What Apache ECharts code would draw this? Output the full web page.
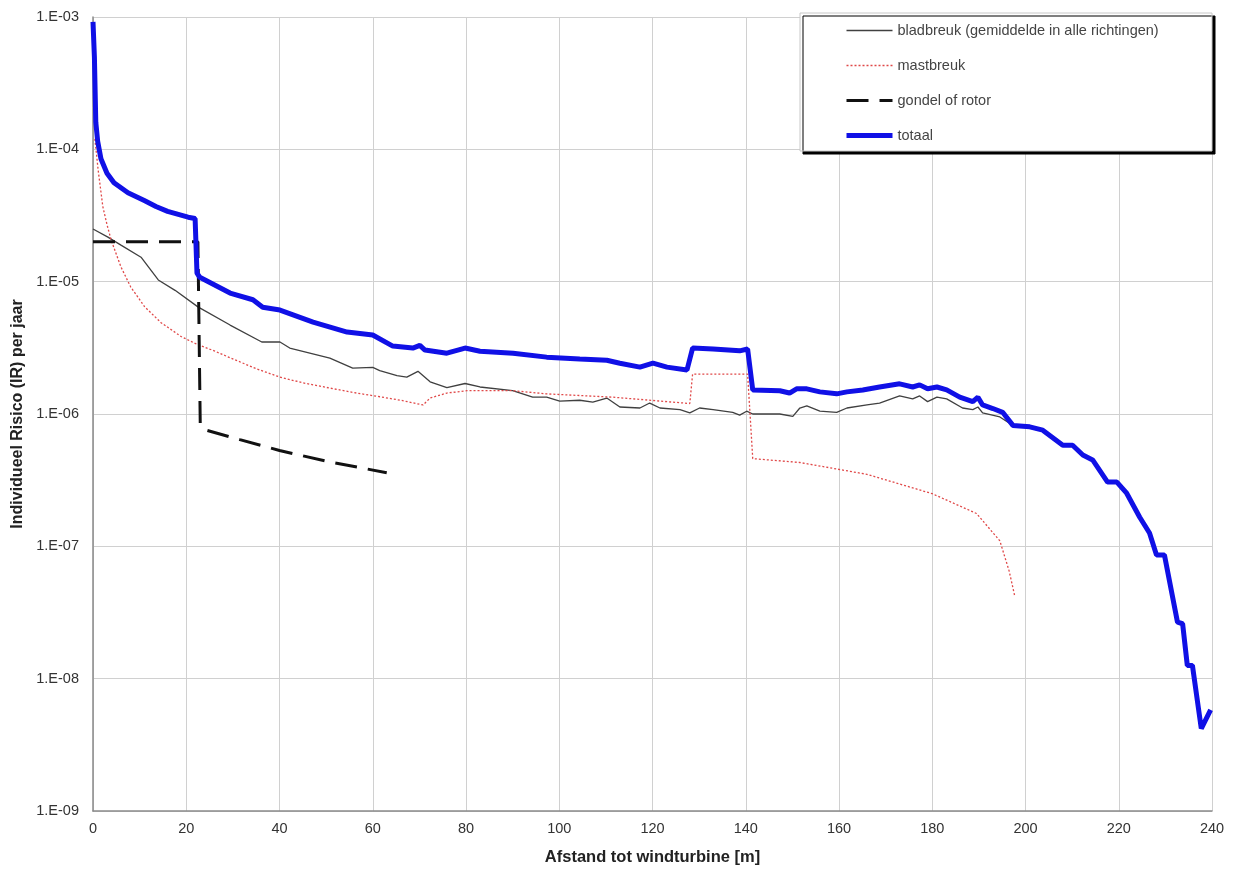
<!DOCTYPE html>
<html>
<head>
<meta charset="utf-8">
<script src="https://cdn.jsdelivr.net/npm/echarts@6/dist/echarts.min.js"></script>
<style>
html,body{margin:0;padding:0;background:#fff;}
#chart{width:1241px;height:874px;}
</style>
</head>
<body>
<div id="chart"></div>
<script>
// ---- data ----
const seriesNames = ['bladbreuk (gemiddelde in alle richtingen)', 'mastbreuk', 'gondel of rotor', 'totaal'];
const xTicks = [0, 20, 40, 60, 80, 100, 120, 140, 160, 180, 200, 220, 240];

const bladX = [0, 3.2, 6, 10.3, 14, 17.6, 22.5, 29.4, 36.2, 40.1, 42.2, 50.8, 55.7, 60, 61.5, 65.2, 67.3, 69.7, 72.3, 75.9, 79.8, 83, 90, 94.3, 97.3, 100.1, 104.4, 107.2, 110.2, 113, 117.3, 119.4, 121.6, 125.9, 128, 130.1, 133, 137.2, 138.7, 140.2, 141.5, 147.3, 150.1, 151.6, 153.1, 155.9, 159.5, 161.7, 166, 168.7, 173, 175.8, 177.3, 179, 181, 183.1, 186.5, 188.7, 189.8, 190.8, 194.5, 197.3];
const bladY = [2.5e-5, 2.17e-5, 1.89e-5, 1.53e-5, 1.03e-5, 8.6e-6, 6.45e-6, 4.7e-6, 3.5e-6, 3.5e-6, 3.15e-6, 2.64e-6, 2.22e-6, 2.25e-6, 2.13e-6, 1.95e-6, 1.9e-6, 2.1e-6, 1.75e-6, 1.58e-6, 1.7e-6, 1.6e-6, 1.5e-6, 1.34e-6, 1.34e-6, 1.25e-6, 1.27e-6, 1.23e-6, 1.32e-6, 1.13e-6, 1.11e-6, 1.21e-6, 1.11e-6, 1.08e-6, 1.02e-6, 1.11e-6, 1.08e-6, 1.03e-6, 9.8e-7, 1.05e-6, 1.0e-6, 1.0e-6, 9.6e-7, 1.11e-6, 1.15e-6, 1.05e-6, 1.03e-6, 1.11e-6, 1.17e-6, 1.21e-6, 1.37e-6, 1.3e-6, 1.37e-6, 1.24e-6, 1.34e-6, 1.3e-6, 1.11e-6, 1.08e-6, 1.13e-6, 1.02e-6, 9.5e-7, 8.2e-7];

const mastX = [0.4, 1.1, 2.1, 3, 3.9, 6, 8.1, 11.1, 14.6, 18.9, 22.4, 26, 29.4, 35, 40.1, 45, 50.8, 56, 61.5, 66, 70.8, 72.3, 75.9, 80.2, 90, 97.3, 111.5, 128, 128.6, 140.4, 141.5, 151.6, 166, 180, 189.5, 194.5, 196.5, 197.7];
const mastY = [1.2e-4, 7.0e-5, 3.7e-5, 2.7e-5, 2.06e-5, 1.29e-5, 9.1e-6, 6.45e-6, 4.9e-6, 3.85e-6, 3.35e-6, 3.0e-6, 2.66e-6, 2.2e-6, 1.9e-6, 1.72e-6, 1.57e-6, 1.45e-6, 1.35e-6, 1.27e-6, 1.17e-6, 1.32e-6, 1.44e-6, 1.5e-6, 1.5e-6, 1.42e-6, 1.34e-6, 1.2e-6, 2.0e-6, 2.0e-6, 4.6e-7, 4.3e-7, 3.5e-7, 2.5e-7, 1.77e-7, 1.1e-7, 6.5e-8, 4.2e-8];

const gondelX = [0, 22.5, 23, 24, 31.5, 40, 50, 63];
const gondelY = [2.0e-5, 2.0e-5, 8.5e-7, 7.6e-7, 6.4e-7, 5.3e-7, 4.4e-7, 3.6e-7];

const totaalX = [0, 0.3, 0.6, 1, 1.7, 3, 4.5, 7.5, 11, 13.5, 16, 20.4, 21.9, 22.3, 22.9, 29.4, 34.3, 36.4, 40.1, 47.2, 54.5, 60, 64.3, 68.6, 70.1, 71.2, 75.9, 79.8, 83, 90.1, 97.3, 104.4, 110.2, 113, 117.3, 120.1, 123.1, 127.4, 128.6, 133, 138.7, 140.4, 141.5, 147.3, 149.4, 150.9, 153.1, 155.9, 159.5, 161.7, 165.1, 168.7, 173, 175.8, 177.3, 179, 181, 183.1, 185.9, 188.7, 189.8, 190.8, 193, 195.1, 197.3, 200.9, 203.7, 208, 210.1, 212.3, 214.4, 217.6, 219.6, 221.7, 224.5, 226.6, 228.1, 229.8, 232.6, 233.7, 234.7, 235.8, 237.7, 239.7];
const totaalY = [9.2e-4, 5.0e-4, 1.6e-4, 1.15e-4, 8.5e-5, 6.6e-5, 5.6e-5, 4.7e-5, 4.1e-5, 3.7e-5, 3.4e-5, 3.07e-5, 3.0e-5, 1.16e-5, 1.08e-5, 8.2e-6, 7.3e-6, 6.4e-6, 6.1e-6, 4.95e-6, 4.16e-6, 3.95e-6, 3.26e-6, 3.15e-6, 3.3e-6, 3.04e-6, 2.88e-6, 3.15e-6, 2.98e-6, 2.88e-6, 2.69e-6, 2.6e-6, 2.55e-6, 2.42e-6, 2.26e-6, 2.42e-6, 2.26e-6, 2.15e-6, 3.15e-6, 3.1e-6, 3.0e-6, 3.1e-6, 1.52e-6, 1.5e-6, 1.44e-6, 1.55e-6, 1.55e-6, 1.47e-6, 1.42e-6, 1.47e-6, 1.52e-6, 1.6e-6, 1.69e-6, 1.6e-6, 1.66e-6, 1.55e-6, 1.6e-6, 1.52e-6, 1.34e-6, 1.24e-6, 1.34e-6, 1.17e-6, 1.1e-6, 1.03e-6, 8.2e-7, 8.0e-7, 7.55e-7, 5.8e-7, 5.8e-7, 4.9e-7, 4.5e-7, 3.06e-7, 3.06e-7, 2.52e-7, 1.66e-7, 1.26e-7, 8.6e-8, 8.6e-8, 2.67e-8, 2.6e-8, 1.26e-8, 1.26e-8, 4.2e-9, 5.8e-9];

function zip(xs, ys) { return xs.map((x, i) => [x, ys[i]]); }

const FONT = '"Liberation Sans", Arial, sans-serif';
const styles = [
  { color: '#404040', width: 1.3, type: 'solid' },
  { color: '#e04848', width: 1.3, type: [2, 2] },
  { color: '#111111', width: 3, type: [22, 11] },
  { color: '#1010e6', width: 5, type: 'solid' }
];
const xs = [bladX, mastX, gondelX, totaalX];
const ys = [bladY, mastY, gondelY, totaalY];

const chart = echarts.init(document.getElementById('chart'));
chart.setOption({
  animation: false,
  backgroundColor: '#ffffff',
  grid: { left: 93, right: 29, top: 17, bottom: 63, containLabel: false },
  xAxis: {
    type: 'value', min: 0, max: 240, interval: 20,
    name: 'Afstand tot windturbine [m]', nameLocation: 'middle', nameGap: 38,
    nameTextStyle: { fontFamily: FONT, fontSize: 16.5, fontWeight: 'bold', color: '#222' },
    axisLine: { show: true, onZero: false, lineStyle: { color: '#8a8a8a', width: 1.5 } },
    axisTick: { show: false },
    axisLabel: { fontFamily: FONT, fontSize: 14.5, color: '#333', margin: 10 },
    splitLine: { show: true, lineStyle: { color: '#d0d0d0', width: 1 } }
  },
  yAxis: {
    type: 'log', logBase: 10, min: 1e-9, max: 1e-3, splitNumber: 6,
    name: 'Individueel Risico (IR) per jaar', nameLocation: 'middle', nameGap: 64, nameRotate: 90,
    nameTextStyle: { fontFamily: FONT, fontSize: 16, fontWeight: 'bold', color: '#222' },
    axisLine: { show: true, lineStyle: { color: '#8a8a8a', width: 1.5 } },
    axisTick: { show: false },
    axisLabel: {
      fontFamily: FONT, fontSize: 14.5, color: '#333', margin: 14,
      formatter: function (v) {
        const e = Math.round(Math.log10(v));
        return '1.E-' + String(-e).padStart(2, '0');
      }
    },
    splitLine: { show: true, lineStyle: { color: '#d0d0d0', width: 1 } },
    minorSplitLine: { show: false }
  },
  graphic: [{
    type: 'rect', z: 100,
    shape: { x: 800, y: 13, width: 412, height: 138 },
    style: { fill: '#ffffff', stroke: '#c8c8c8', lineWidth: 1,
      shadowColor: '#000000', shadowOffsetX: 3, shadowOffsetY: 3, shadowBlur: 0 }
  }],
  legend: {
    z: 200, orient: 'vertical', left: 839, top: 18,
    itemWidth: 46, itemHeight: 14, itemGap: 20,
    data: seriesNames.map((n, i) => ({ name: n, itemStyle: { opacity: 0 },
      lineStyle: { color: styles[i].color, width: styles[i].width, type: styles[i].type } })),
    textStyle: { fontFamily: FONT, fontSize: 14.5, color: '#444' }
  },
  series: seriesNames.map((n, i) => ({
    name: n, type: 'line', data: zip(xs[i], ys[i]), symbol: 'none', z: 2 + i,
    lineStyle: { color: styles[i].color, width: styles[i].width, type: styles[i].type },
    itemStyle: { color: styles[i].color }
  }))
});
</script>
</body>
</html>
